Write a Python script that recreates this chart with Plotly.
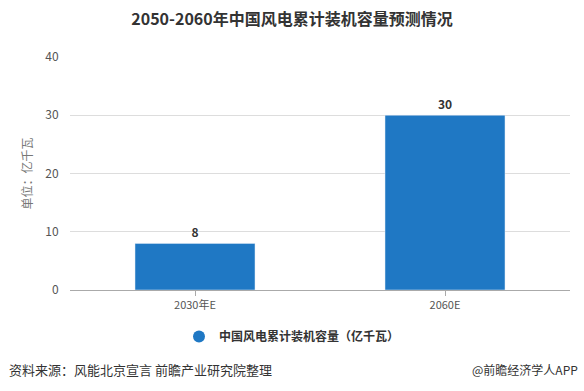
import plotly.graph_objects as go

categories = ["2030年E", "2060E"]
values = [8, 30]
series_name = "中国风电累计装机容量（亿千瓦）"
title_text = "2050-2060年中国风电累计装机容量预测情况"
y_title = "单位：亿千瓦"
source_text = "资料来源：风能北京宣言 前瞻产业研究院整理"
brand_text = "@前瞻经济学人APP"
y_ticks = [0, 10, 20, 30, 40]

color = "#1f78c4"
font_family = "Microsoft YaHei, Noto Sans CJK SC, sans-serif"

fig = go.Figure()
fig.add_trace(go.Bar(
    x=categories, y=values, marker_color=color, width=0.48,
    text=[str(v) for v in values], textposition="outside",
    textfont=dict(size=12, color="#333333", family=font_family),
    texttemplate="<b>%{text}</b>", cliponaxis=False,
    showlegend=False, name=series_name,
))
fig.add_trace(go.Scatter(
    x=[None], y=[None], mode="markers", name="<b>" + series_name + "</b>",
    marker=dict(symbol="circle", size=12, color=color),
    showlegend=True,
))

fig.update_layout(
    width=584, height=391,
    margin=dict(l=70, r=14, t=57, b=101, autoexpand=False),
    paper_bgcolor="white", plot_bgcolor="white",
    font=dict(family=font_family, color="#444444", size=12),
    title=dict(text="<b>" + title_text + "</b>", x=0.5, xanchor="center",
               y=0.95, yanchor="middle",
               font=dict(size=16, color="#333333", family=font_family)),
    showlegend=True,
    legend=dict(orientation="h", x=0.444, xanchor="center", y=-0.2, yanchor="middle",
                font=dict(size=12, color="#333333", family=font_family),
                itemwidth=30),
)
fig.update_xaxes(
    showline=True, linecolor="#aaaaaa", linewidth=1,
    ticks="outside", ticklen=5, tickcolor="#aaaaaa",
    tickfont=dict(size=11, color="#555555"),
    showgrid=False,
)
fig.update_yaxes(
    range=[0, 40], tickvals=y_ticks, showgrid=True, gridcolor="#dddddd",
    zeroline=False, showline=False,
    ticks="outside", ticklen=8, tickcolor="rgba(0,0,0,0)",
    tickfont=dict(size=12, color="#555555"),
    title=dict(text=y_title, font=dict(size=12, color="#777777"), standoff=10),
)
fig.add_annotation(text=source_text, x=-0.126, y=-0.343, xref="paper", yref="paper",
                   xanchor="left", yanchor="middle", showarrow=False,
                   font=dict(size=13, color="#333333", family=font_family))
fig.add_annotation(text=brand_text, x=1.02, y=-0.343, xref="paper", yref="paper",
                   xanchor="right", yanchor="middle", showarrow=False,
                   font=dict(size=12, color="#333333", family=font_family))

fig.write_html("out.html", config={"displayModeBar": False},
               post_script="document.body.style.margin='0';")
